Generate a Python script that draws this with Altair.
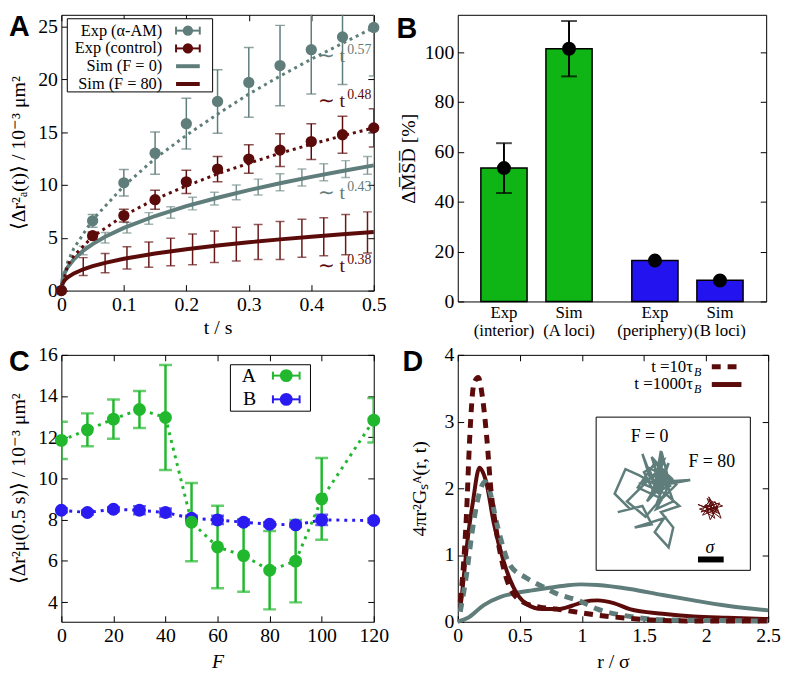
import altair as alt
import pandas as pd

SERIF = "Liberation Serif"
SANS = "Liberation Sans"
GRAY = "#5f7d7a"
GRAY_ERR = "#7b9592"
RED = "#5c0b0b"
RED_ERR = "#6a1717"
GREEN_BAR = "#0fb515"
BLUE_BAR = "#2313ee"
GREEN = "#22b82e"
BLUE = "#2a1cf0"
TICK_IN = alt.ExprRef(expr="-6")

# ---------------- Panel A data ----------------
t_exp = [0.0, 0.05, 0.10, 0.15, 0.20, 0.25, 0.30, 0.35, 0.40, 0.45, 0.50]
am_mean = [0.0, 6.6, 10.2, 13.0, 15.8, 17.9, 19.7, 21.3, 22.8, 24.0, 24.9]
am_err = [0.0, 0.6, 1.25, 2.0, 2.4, 3.0, 3.3, 3.8, 4.2, 4.5, 4.6]
ctl_mean = [0.0, 5.2, 7.1, 8.6, 10.3, 11.5, 12.45, 13.3, 14.1, 14.75, 15.4]
ctl_err = [0.0, 0.35, 0.6, 0.9, 1.1, 1.2, 1.35, 1.55, 1.7, 1.75, 1.8]

fit_t = [0.0, 0.01, 0.02, 0.05, 0.10, 0.15, 0.20, 0.25, 0.30, 0.35, 0.40, 0.45, 0.50]
am_fit = [0.0, 2.7, 4.0, 6.7, 9.9, 12.5, 14.7, 16.7, 18.6, 20.3, 21.9, 23.4, 24.9]
ctl_fit = [0.0, 2.4, 3.3, 5.1, 7.1, 8.65, 9.9, 11.05, 12.05, 13.0, 13.85, 14.65, 15.4]

sim_t = [0.0, 0.002, 0.005, 0.01, 0.02, 0.035, 0.05, 0.07, 0.10, 0.15, 0.20, 0.25,
         0.30, 0.35, 0.40, 0.45, 0.50]
sim_f0 = [0.0, 1.10, 1.64, 2.20, 2.97, 3.78, 4.40, 5.09, 5.93, 7.06, 7.99, 8.79,
          9.51, 10.16, 10.76, 11.32, 11.85]
sim_f80 = [0.0, 0.68, 0.96, 1.25, 1.63, 2.02, 2.31, 2.63, 3.01, 3.51, 3.92, 4.26,
           4.57, 4.85, 5.10, 5.33, 5.55]

bar_t = [0.035, 0.07, 0.105, 0.14, 0.175, 0.21, 0.245, 0.28, 0.315, 0.35, 0.385, 0.42, 0.455, 0.49]
f0_bar_mean = [3.8, 5.0, 5.95, 6.83, 7.39, 8.24, 8.7, 9.3, 9.8, 10.25, 10.7, 11.2, 11.5, 11.85]
f0_bar_err = [0.4, 0.5, 0.5, 0.55, 0.55, 0.6, 0.6, 0.7, 0.75, 0.8, 0.8, 0.8, 0.8, 0.85]
f80_bar_mean = [2.27, 2.6, 3.1, 3.4, 3.65, 3.9, 4.15, 4.4, 4.6, 4.75, 4.95, 5.1, 5.3, 5.5]
f80_bar_err = [0.85, 0.9, 1.05, 1.2, 1.3, 1.45, 1.5, 1.6, 1.65, 1.8, 1.8, 1.8, 1.9, 1.95]

exp_labels = ["0.57", "0.48", "0.43", "0.38"]
exp_t = [0.41, 0.41, 0.41, 0.41]
exp_v = [21.6, 17.4, 8.7, 1.77]
exp_colors = [GRAY, RED, GRAY, RED]

legend_a = ["Exp (α-AM)", "Exp (control)", "Sim (F = 0)", "Sim (F = 80)"]

# ---------------- Panel B data ----------------
b_pos = [0.0, 1.0, 2.32, 3.32]
b_height = [53.5, 101.4, 16.4, 8.5]
b_dot = [53.5, 101.4, 16.4, 8.4]
b_err = [10.0, 11.1, 0.0, 0.0]
b_top_line = ["Exp", "Sim", "Exp", "Sim"]
b_bottom_line = ["(interior)", "(A loci)", "(periphery)", "(B loci)"]
b_fill = [GREEN_BAR, GREEN_BAR, BLUE_BAR, BLUE_BAR]
BAR_HALF = 0.355

# ---------------- Panel C data ----------------
F_vals = [0, 10, 20, 30, 40, 50, 60, 70, 80, 90, 100, 120]
A_mean = [11.85, 12.36, 12.88, 13.35, 12.96, 7.88, 6.68, 6.26, 5.55, 5.99, 9.01, 12.83]
A_err = [0.9, 0.8, 0.95, 0.9, 2.55, 1.9, 2.0, 1.75, 1.9, 2.0, 1.98, 1.08]
B_mean = [8.46, 8.35, 8.51, 8.46, 8.35, 8.07, 7.99, 7.88, 7.78, 7.75, 7.99, 7.96]
B_err = [0.1, 0.1, 0.1, 0.2, 0.2, 0.12, 0.2, 0.12, 0.1, 0.1, 0.25, 0.1]
legend_c = ["A", "B"]

# ---------------- Panel D data ----------------
rd_r = [0.02, 0.044, 0.07, 0.096, 0.13, 0.165, 0.2, 0.234, 0.266, 0.305, 0.357, 0.42,
        0.53, 0.66, 0.79, 0.94, 1.12, 1.39, 1.65, 2.0, 2.5]
rd_v = [0.3, 0.8, 1.6, 2.75, 3.57, 3.66, 3.35, 2.75, 2.0, 1.43, 0.9, 0.51,
        0.29, 0.22, 0.19, 0.15, 0.1, 0.05, 0.02, 0.01, 0.01]
rs_r = [0.02, 0.03, 0.083, 0.12, 0.175, 0.2, 0.227, 0.29, 0.37, 0.45, 0.55, 0.68,
        0.81, 0.92, 1.02, 1.125, 1.255, 1.385, 1.65, 1.9, 2.17, 2.5]
rs_v = [0.2, 0.35, 1.29, 1.77, 2.31, 2.25, 2.11, 1.48, 0.9, 0.51, 0.27, 0.19,
        0.19, 0.24, 0.3, 0.32, 0.28, 0.19, 0.12, 0.08, 0.06, 0.04]
gd_r = [0.02, 0.07, 0.12, 0.17, 0.22, 0.25, 0.32, 0.42, 0.55, 0.68, 0.81, 0.97,
        1.125, 1.385, 1.65, 2.0, 2.5]
gd_v = [0.15, 0.7, 1.4, 1.9, 2.1, 2.0, 1.43, 0.85, 0.66, 0.53, 0.41, 0.32,
        0.19, 0.08, 0.03, 0.02, 0.01]
gs_r = [0.0, 0.083, 0.21, 0.34, 0.47, 0.6, 0.86, 0.99, 1.125, 1.385, 1.65, 1.9, 2.17, 2.5]
gs_v = [0.0, 0.06, 0.25, 0.37, 0.43, 0.47, 0.54, 0.56, 0.55, 0.49, 0.40, 0.32, 0.24, 0.17]
legend_d = ["t =10τ", "t =1000τ"]

walk0_x = [35, 30, 38, 42, 40, 47, 33, 45, 61, 40, 28, 19, 12, 22, 14, 30, 36, 25, 44, 38,
           47, 50, 42, 54, 45, 32, 20, 40, 43, 48, 36, 44, 50, 39, 46, 41, 37, 31, 44, 35,
           49, 38, 27, 42, 34, 46, 39, 52, 36, 43, 29, 41]
walk0_y = [40, 24, 45, 22, 50, 30, 55, 42, 41, 45, 38, 34, 50, 60, 62, 58, 70, 72, 66, 75,
           85, 72, 62, 58, 50, 65, 55, 35, 25, 45, 50, 38, 55, 60, 47, 32, 48, 36, 28, 52,
           40, 30, 46, 53, 33, 39, 57, 44, 26, 49, 43, 37]
walk80_x = [74, 66, 80, 72, 77, 70, 82, 75, 69, 78, 73, 76, 67, 80, 74, 71, 79, 75, 72, 77, 81, 73,
            76, 70, 78, 74, 68, 79, 75]
walk80_y = [60, 57, 63, 53, 66, 61, 58, 55, 64, 60, 52, 63, 60, 56, 67, 57, 61, 59, 62, 55, 66, 60,
            57, 58, 62, 54, 62, 58, 61]


# ---------------- helpers ----------------
def ax_main(orient, values, title=None, fmt=None, tpad=4, tstyle="normal"):
    kw = dict(orient=orient, values=values, domain=False, grid=False, ticks=True,
              tickSize=TICK_IN, tickColor="black", tickWidth=1, labelFlush=False,
              labelOverlap=False, labelPadding=10, labelFont=SERIF, labelFontSize=20,
              labelColor="black", titleFont=SERIF, titleFontSize=20,
              titleFontWeight="normal", titleColor="black", titlePadding=tpad,
              titleFontStyle=tstyle, title=title)
    if fmt:
        kw["format"] = fmt
    return alt.Axis(**kw)


def ax_mirror(orient, values):
    return alt.Axis(orient=orient, values=values, domain=False, grid=False, ticks=True,
                    tickSize=TICK_IN, tickColor="black", tickWidth=1, labels=False, title=None)


def coder(xs, ys):
    def X(f, axis=None):
        return alt.X(f"{f}:Q", scale=xs, axis=axis)

    def Y(f, axis=None):
        return alt.Y(f"{f}:Q", scale=ys, axis=axis)
    return X, Y


def errbars(df, X, Y, xf, lo, hi, color, width, cap, clip=True):
    base = alt.Chart(df)
    return [
        base.mark_rule(color=color, strokeWidth=width, clip=clip).encode(x=X(xf), y=Y(lo), y2=alt.Y2(hi)),
        base.mark_tick(orient="horizontal", color=color, size=cap, thickness=width, clip=clip).encode(x=X(xf), y=Y(lo)),
        base.mark_tick(orient="horizontal", color=color, size=cap, thickness=width, clip=clip).encode(x=X(xf), y=Y(hi)),
    ]


def letter(ch, x, y):
    return alt.Chart(pd.DataFrame({"p": [ch]})).mark_text(
        font=SANS, fontWeight="bold", fontSize=29, align="left", baseline="alphabetic", color="black"
    ).encode(x=alt.value(x), y=alt.value(y), text="p:N")


def box(x0, x1, y0, y1):
    return alt.Chart(pd.DataFrame({"b": [0]})).mark_rect(fill="white", stroke="black", strokeWidth=1).encode(
        x=alt.value(x0), x2=alt.value(x1), y=alt.value(y0), y2=alt.value(y1))


def legend_row(label, color, kind, yy, x_text, x0, x1, fs, msize=110):
    b = alt.Chart(pd.DataFrame({"label": [label]}))
    out = [b.mark_text(align="right", baseline="middle", font=SERIF, fontSize=fs, color="black").encode(
        x=alt.value(x_text), y=alt.value(yy), text="label:N")]
    if kind == "err":
        out.append(b.mark_rule(color=color, strokeWidth=2).encode(x=alt.value(x0), x2=alt.value(x1), y=alt.value(yy)))
        for xc in (x0, x1):
            out.append(b.mark_rule(color=color, strokeWidth=2).encode(x=alt.value(xc), y=alt.value(yy - 4), y2=alt.value(yy + 4)))
        out.append(b.mark_circle(color=color, size=msize, opacity=1).encode(x=alt.value((x0 + x1) / 2), y=alt.value(yy)))
    elif kind == "line":
        out.append(b.mark_rule(color=color, strokeWidth=4).encode(x=alt.value(x0), x2=alt.value(x1), y=alt.value(yy)))
    elif kind == "thick":
        out.append(b.mark_rule(color=color, strokeWidth=5).encode(x=alt.value(x0), x2=alt.value(x1), y=alt.value(yy)))
    elif kind == "dash":
        out.append(b.mark_rule(color=color, strokeWidth=5, strokeDash=[9, 7]).encode(x=alt.value(x0), x2=alt.value(x1), y=alt.value(yy)))
    return out


# ================= Panel A =================
WA, HA = 316, 279
XA, YA = coder(alt.Scale(domain=[0, 0.5], nice=False, zero=False),
               alt.Scale(domain=[0, 26.1], nice=False, zero=False))
a_x_vals = [0, 0.1, 0.2, 0.3, 0.4, 0.5]
a_y_vals = [0, 5, 10, 15, 20, 25]

df_exp = pd.DataFrame({"t": t_exp, "am": am_mean, "ctl": ctl_mean})
df_exp["am_lo"] = [m - e for m, e in zip(am_mean, am_err)]
df_exp["am_hi"] = [m + e for m, e in zip(am_mean, am_err)]
df_exp["ctl_lo"] = [m - e for m, e in zip(ctl_mean, ctl_err)]
df_exp["ctl_hi"] = [m + e for m, e in zip(ctl_mean, ctl_err)]
df_exp_e = df_exp[df_exp["t"] > 0]
df_fit = pd.DataFrame({"t": fit_t, "am": am_fit, "ctl": ctl_fit})
df_sim = pd.DataFrame({"t": sim_t, "f0": sim_f0, "f80": sim_f80})
df_bar = pd.DataFrame({"t": bar_t})
df_bar["f0_lo"] = [m - e for m, e in zip(f0_bar_mean, f0_bar_err)]
df_bar["f0_hi"] = [m + e for m, e in zip(f0_bar_mean, f0_bar_err)]
df_bar["f80_lo"] = [m - e for m, e in zip(f80_bar_mean, f80_bar_err)]
df_bar["f80_hi"] = [m + e for m, e in zip(f80_bar_mean, f80_bar_err)]
df_ann = pd.DataFrame({"t": exp_t, "v": exp_v, "e": exp_labels, "c": exp_colors})

layersA = []
layersA += errbars(df_bar, XA, YA, "t", "f0_lo", "f0_hi", GRAY_ERR, 1.5, 9)
layersA += errbars(df_bar, XA, YA, "t", "f80_lo", "f80_hi", RED_ERR, 1.5, 9)
layersA.append(alt.Chart(df_sim).mark_line(color=GRAY, strokeWidth=4).encode(
    x=XA("t", ax_main("bottom", a_x_vals, "t / s", ".1~f", 3)),
    y=YA("f0", ax_main("left", a_y_vals, "⟨Δr²ₐ(t)⟩ / 10⁻³ μm²", "d", 9))))
layersA.append(alt.Chart(df_sim).mark_line(color=RED, strokeWidth=4).encode(
    x=XA("t", ax_mirror("top", a_x_vals)), y=YA("f80", ax_mirror("right", a_y_vals))))
layersA += errbars(df_exp_e, XA, YA, "t", "am_lo", "am_hi", GRAY, 1.5, 10)
layersA += errbars(df_exp_e, XA, YA, "t", "ctl_lo", "ctl_hi", RED, 1.5, 10)
layersA.append(alt.Chart(df_fit).mark_line(color=GRAY, strokeWidth=3, strokeDash=[3, 4]).encode(x=XA("t"), y=YA("am")))
layersA.append(alt.Chart(df_fit).mark_line(color=RED, strokeWidth=3, strokeDash=[3, 4]).encode(x=XA("t"), y=YA("ctl")))
layersA.append(alt.Chart(df_exp).mark_circle(color=GRAY, size=130, opacity=1).encode(x=XA("t"), y=YA("am")))
layersA.append(alt.Chart(df_exp).mark_circle(color=RED, size=130, opacity=1).encode(x=XA("t"), y=YA("ctl")))
layersA.append(alt.Chart(df_ann).mark_text(align="left", baseline="alphabetic", font=SERIF, fontSize=20).encode(
    x=XA("t"), y=YA("v"), text=alt.value("∼ t"), color=alt.Color("c:N", scale=None)))
layersA.append(alt.Chart(df_ann).mark_text(align="left", baseline="alphabetic", font=SERIF, fontSize=14, dx=30, dy=-8).encode(
    x=XA("t"), y=YA("v"), text="e:N", color=alt.Color("c:N", scale=None)))
layersA.append(box(6, 153, 4, 78))
for lab, col, kind, yy in zip(legend_a, [GRAY, RED, GRAY, RED], ["err", "err", "line", "line"], [16, 34, 52, 70]):
    layersA += legend_row(lab, col, kind, yy, 102, 116, 140, 16.5)
layersA.append(letter("A", -53, 21))

panelA = alt.layer(*layersA).resolve_axis(x="independent", y="independent").properties(width=WA, height=HA)

# ================= Panel B =================
WB, HB = 312, 290
XB, YB = coder(alt.Scale(domain=[-0.71, 4.03], nice=False, zero=False),
               alt.Scale(domain=[0, 115], nice=False, zero=False))
b_y_vals = [0, 20, 40, 60, 80, 100]
dfB = pd.DataFrame({"pos": b_pos, "v": b_height, "dot": b_dot, "fill": b_fill,
                    "l1": b_top_line, "l2": b_bottom_line})
dfB["l"] = [p - BAR_HALF for p in b_pos]
dfB["r"] = [p + BAR_HALF for p in b_pos]
dfB["zero"] = [0.0] * len(b_pos)
dfB["lo"] = [d - e for d, e in zip(b_dot, b_err)]
dfB["hi"] = [d + e for d, e in zip(b_dot, b_err)]
dfB_e = dfB[[e > 0 for e in b_err]]

layersB = [
    alt.Chart(dfB).mark_rect(stroke="black", strokeWidth=1.5).encode(
        x=XB("l"), x2=alt.X2("r"),
        y=YB("zero", ax_main("left", b_y_vals, "ΔM\u0305S\u0305D\u0305 [%]", "d", 6)),
        y2=alt.Y2("v"), fill=alt.Fill("fill:N", scale=None)),
]
layersB += errbars(dfB_e, XB, YB, "pos", "lo", "hi", "black", 2, 16, clip=False)
layersB.append(alt.Chart(dfB).mark_circle(color="black", size=200, opacity=1).encode(
    x=XB("pos"), y=YB("dot", ax_mirror("right", b_y_vals))))
layersB.append(alt.Chart(dfB).mark_text(baseline="middle", font=SERIF, fontSize=17, color="black").encode(
    x=XB("pos"), y=alt.value(HB + 12), text="l1:N"))
layersB.append(alt.Chart(dfB).mark_text(baseline="middle", font=SERIF, fontSize=17, color="black").encode(
    x=XB("pos"), y=alt.value(HB + 30), text="l2:N"))
layersB.append(letter("B", -62, 23))
panelB = alt.layer(*layersB).resolve_axis(x="independent", y="independent").properties(width=WB, height=HB)

# ================= Panel C =================
WC, HC = 316, 270
XC, YC = coder(alt.Scale(domain=[0, 120], nice=False, zero=False),
               alt.Scale(domain=[3.05, 16], nice=False, zero=False))
c_x_vals = [0, 20, 40, 60, 80, 100, 120]
c_y_vals = [4, 6, 8, 10, 12, 14, 16]
dfC = pd.DataFrame({"F": F_vals, "A": A_mean, "B": B_mean})
dfC["A_lo"] = [m - e for m, e in zip(A_mean, A_err)]
dfC["A_hi"] = [m + e for m, e in zip(A_mean, A_err)]
dfC["B_lo"] = [m - e for m, e in zip(B_mean, B_err)]
dfC["B_hi"] = [m + e for m, e in zip(B_mean, B_err)]

layersC = []
layersC += errbars(dfC, XC, YC, "F", "A_lo", "A_hi", GREEN, 2.5, 13)
layersC.append(alt.Chart(dfC).mark_line(color=BLUE, strokeWidth=3, strokeDash=[3, 5]).encode(
    x=XC("F", ax_main("bottom", c_x_vals, "F", "d", 6, "italic")),
    y=YC("B", ax_main("left", c_y_vals, "⟨Δr²μ(0.5 s)⟩ / 10⁻³ μm²", "d", 9))))
layersC += errbars(dfC, XC, YC, "F", "B_lo", "B_hi", BLUE, 2.5, 13)
layersC.append(alt.Chart(dfC).mark_circle(color=BLUE, size=170, opacity=1).encode(x=XC("F"), y=YC("B")))
layersC.append(alt.Chart(dfC).mark_line(color=GREEN, strokeWidth=3, strokeDash=[3, 5]).encode(
    x=XC("F", ax_mirror("top", c_x_vals)), y=YC("A", ax_mirror("right", c_y_vals))))
layersC.append(alt.Chart(dfC).mark_circle(color=GREEN, size=170, opacity=1).encode(x=XC("F"), y=YC("A")))
layersC.append(box(171, 252, 10, 57))
for lab, col, yy in zip(legend_c, [GREEN, BLUE], [21, 45]):
    layersC += legend_row(lab, col, "err", yy, 197, 214, 241, 20, 170)
layersC.append(letter("C", -53, 16))
panelC = alt.layer(*layersC).resolve_axis(x="independent", y="independent").properties(width=WC, height=HC)

# ================= Panel D =================
WD, HD = 314, 270
XD, YD = coder(alt.Scale(domain=[0, 2.5], nice=False, zero=False),
               alt.Scale(domain=[0, 4], nice=False, zero=False))
d_x_vals = [0, 0.5, 1, 1.5, 2, 2.5]
d_y_vals = [0, 1, 2, 3, 4]
df_gs = pd.DataFrame({"r": gs_r, "v": gs_v})
df_gd = pd.DataFrame({"r": gd_r, "v": gd_v})
df_rs = pd.DataFrame({"r": rs_r, "v": rs_v})
df_rd = pd.DataFrame({"r": rd_r, "v": rd_v})

layersD = [
    alt.Chart(df_gs).mark_line(color=GRAY, strokeWidth=4, interpolate="monotone").encode(
        x=XD("r", ax_main("bottom", d_x_vals, "r / σ", ".1~f", 6)),
        y=YD("v", ax_main("left", d_y_vals, "4πr²Gₛᴬ(r, t)", "d", 15))),
    alt.Chart(df_rs).mark_line(color=RED, strokeWidth=4, interpolate="monotone").encode(
        x=XD("r", ax_mirror("top", d_x_vals)), y=YD("v", ax_mirror("right", d_y_vals))),
    alt.Chart(df_gd).mark_line(color=GRAY, strokeWidth=5, strokeDash=[9, 7], interpolate="monotone").encode(
        x=XD("r"), y=YD("v")),
    alt.Chart(df_rd).mark_line(color=RED, strokeWidth=5, strokeDash=[9, 7], interpolate="monotone").encode(
        x=XD("r"), y=YD("v")),
]
for lab, kind, yy in zip(legend_d, ["dash", "thick"], [12, 30]):
    layersD += legend_row(lab, RED, kind, yy, 238, 257, 287, 17)
    layersD.append(alt.Chart(pd.DataFrame({"s": ["B"]})).mark_text(
        align="left", baseline="middle", font=SERIF, fontSize=12, fontStyle="italic", dy=5, color="black").encode(
        x=alt.value(239), y=alt.value(yy), text="s:N"))
layersD.append(letter("D", -56, 16))
mainD = alt.layer(*layersD).resolve_axis(x="independent", y="independent")

sx_in = alt.Scale(domain=[0, 100], range=[140, 296], nice=False, zero=False)
sy_in = alt.Scale(domain=[0, 100], range=[63, 218], nice=False, zero=False)
df_w0 = pd.DataFrame({"x": walk0_x, "y": walk0_y, "i": list(range(len(walk0_x)))})
df_w80 = pd.DataFrame({"x": walk80_x, "y": walk80_y, "i": list(range(len(walk80_x)))})
inset_layers = [
    box(140, 296, 63, 218),
    alt.Chart(df_w0).mark_line(color=GRAY, strokeWidth=2.5).encode(
        x=alt.X("x:Q", scale=sx_in, axis=None), y=alt.Y("y:Q", scale=sy_in, axis=None), order="i:Q"),
    alt.Chart(df_w80).mark_line(color=RED, strokeWidth=1).encode(
        x=alt.X("x:Q", scale=sx_in, axis=None), y=alt.Y("y:Q", scale=sy_in, axis=None), order="i:Q"),
    alt.Chart(pd.DataFrame({"s": ["F = 0"]})).mark_text(font=SERIF, fontSize=18, baseline="middle", color="black").encode(
        x=alt.value(194), y=alt.value(83), text="s:N"),
    alt.Chart(pd.DataFrame({"s": ["F = 80"]})).mark_text(font=SERIF, fontSize=18, baseline="middle", color="black").encode(
        x=alt.value(257), y=alt.value(108), text="s:N"),
    alt.Chart(pd.DataFrame({"s": ["σ"]})).mark_text(font=SERIF, fontSize=18, fontStyle="italic", baseline="middle", color="black").encode(
        x=alt.value(255), y=alt.value(195), text="s:N"),
    alt.Chart(pd.DataFrame({"s": ["bar"]})).mark_rule(color="black", strokeWidth=6).encode(
        x=alt.value(243), x2=alt.value(269), y=alt.value(207)),
]
insetD = alt.layer(*inset_layers)
panelD = alt.layer(mainD, insetD).resolve_scale(x="independent", y="independent").properties(width=WD, height=HD)

chart = alt.concat(panelA, panelB, panelC, panelD, columns=2,
                   spacing={"row": 54, "column": 85}, bounds="flush").properties(
    padding=0, background="white"
).configure_view(stroke="black", strokeWidth=1)

chart.save("out.html", embed_options={"renderer": "svg", "actions": False})
